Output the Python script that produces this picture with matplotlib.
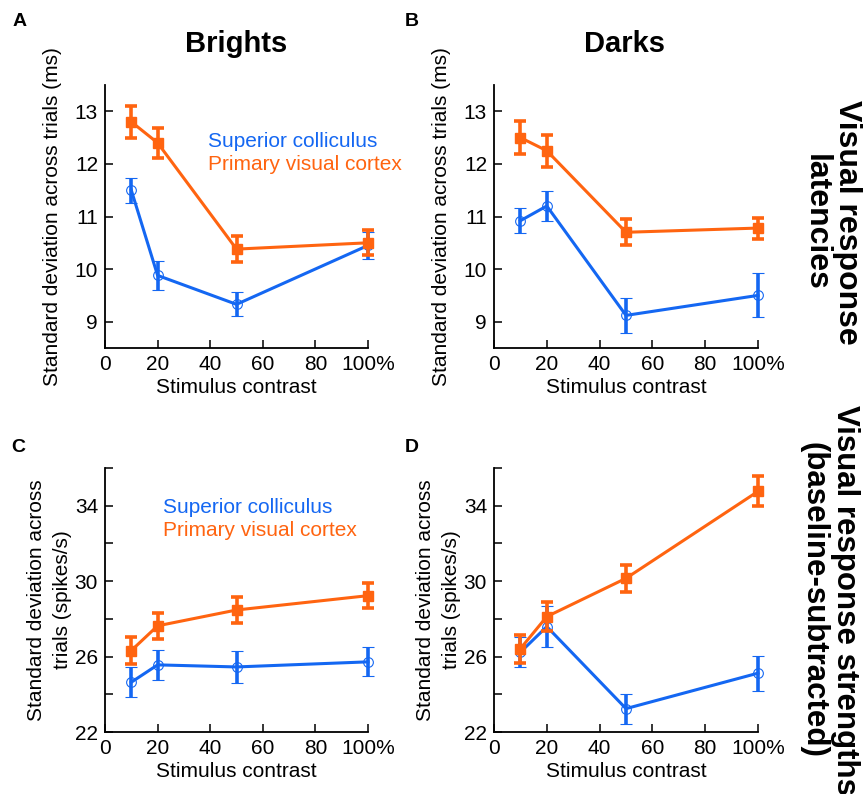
import matplotlib
matplotlib.use('Agg')
import matplotlib.pyplot as plt
from matplotlib import font_manager

names = {f.name for f in font_manager.fontManager.ttflist}
narrow = 'Liberation Sans Narrow' if 'Liberation Sans Narrow' in names else 'Liberation Sans'
plt.rcParams['font.family'] = [narrow, 'DejaVu Sans']

BLUE = '#1467f2'
ORANGE = '#ff6410'

contrast = [10, 20, 50, 100]
xtick_labels = ['0', '20', '40', '60', '80', '100%']

# latencies (ms)
brights_sc = [11.5, 9.88, 9.33, 10.45]
brights_sc_err = [0.24, 0.27, 0.23, 0.26]
brights_v1 = [12.8, 12.4, 10.38, 10.5]
brights_v1_err = [0.3, 0.29, 0.24, 0.24]
darks_sc = [10.92, 11.2, 9.12, 9.5]
darks_sc_err = [0.24, 0.28, 0.33, 0.42]
darks_v1 = [12.5, 12.25, 10.7, 10.78]
darks_v1_err = [0.32, 0.3, 0.25, 0.2]

# response strengths (spikes/s)
str_brights_sc = [24.64, 25.56, 25.45, 25.72]
str_brights_sc_err = [0.8, 0.8, 0.85, 0.77]
str_brights_v1 = [26.32, 27.63, 28.47, 29.23]
str_brights_v1_err = [0.73, 0.7, 0.68, 0.68]
str_darks_sc = [26.23, 27.59, 23.24, 25.12]
str_darks_sc_err = [0.8, 1.1, 0.8, 0.93]
str_darks_v1 = [26.42, 28.12, 30.15, 34.76]
str_darks_v1_err = [0.75, 0.77, 0.7, 0.8]

fig = plt.figure(figsize=(8.67, 7.94), dpi=100)
W, H = 867, 794


def add_ax(x0, y0, x1, y1):
    return fig.add_axes([x0 / W, 1 - y1 / H, (x1 - x0) / W, (y1 - y0) / H])


def style(ax, ylim, yticks, ylabels, ylabel, lpad):
    for s in ['top', 'right']:
        ax.spines[s].set_visible(False)
    for s in ['left', 'bottom']:
        ax.spines[s].set_linewidth(1.3)
    ax.set_xlim(0, 100)
    ax.set_ylim(*ylim)
    ax.set_xticks(range(0, 101, 20))
    ax.set_xticklabels(xtick_labels)
    ax.set_yticks(yticks)
    ax.set_yticklabels(ylabels)
    ax.tick_params(direction='in', length=6, width=1.1, labelsize=15, pad=5)
    ax.set_xlabel('Stimulus contrast', fontsize=15, labelpad=3)
    ax.set_ylabel(ylabel, fontsize=15, labelpad=lpad, linespacing=1.45)


def draw(ax, sc, sc_err, v1, v1_err):
    ax.errorbar(contrast, sc, yerr=sc_err, color=BLUE, lw=2.2, marker='o', ms=7,
                mfc='none', mec=BLUE, mew=0.8, capsize=4, elinewidth=2.6, capthick=2.6,
                clip_on=False, zorder=3)
    ax.errorbar(contrast, v1, yerr=v1_err, color=ORANGE, lw=2.2, marker='s', ms=7,
                mfc=ORANGE, mec=ORANGE, capsize=4, elinewidth=2.6, capthick=2.6,
                clip_on=False, zorder=4)


lat_ticks = [9, 10, 11, 12, 13]
lat_labels = ['9', '10', '11', '12', '13']
str_ticks = [22, 24, 26, 28, 30, 32, 34, 36]
str_labels = ['22', '', '26', '', '30', '', '34', '']

axA = add_ax(105, 85, 368, 348)
axB = add_ax(494, 85, 758, 348)
axC = add_ax(105, 468, 368, 732)
axD = add_ax(494, 468, 758, 732)

style(axA, (8.5, 13.5), lat_ticks, lat_labels, 'Standard deviation across trials (ms)', 9)
style(axB, (8.5, 13.5), lat_ticks, lat_labels, 'Standard deviation across trials (ms)', 9)
style(axC, (22, 36), str_ticks, str_labels, 'Standard deviation across\ntrials (spikes/s)', 2)
style(axD, (22, 36), str_ticks, str_labels, 'Standard deviation across\ntrials (spikes/s)', 2)

draw(axA, brights_sc, brights_sc_err, brights_v1, brights_v1_err)
draw(axB, darks_sc, darks_sc_err, darks_v1, darks_v1_err)
draw(axC, str_brights_sc, str_brights_sc_err, str_brights_v1, str_brights_v1_err)
draw(axD, str_darks_sc, str_darks_sc_err, str_darks_v1, str_darks_v1_err)

# in-plot labels
for ax, (x, y) in [(axA, (0.39, 0.787)), (axC, (0.22, 0.852))]:
    ax.text(x, y, 'Superior colliculus', color=BLUE, fontsize=15, transform=ax.transAxes,
            ha='left', va='center')
    ax.text(x, y - 0.089, 'Primary visual cortex', color=ORANGE, fontsize=15,
            transform=ax.transAxes, ha='left', va='center')

# column titles
fig.text(236 / W, 1 - 44 / H, 'Brights', fontsize=21, fontweight='bold', ha='center', va='center')
fig.text(625 / W, 1 - 44 / H, 'Darks', fontsize=21, fontweight='bold', ha='center', va='center')

# row titles
fig.text(831 / W, 1 - 222 / H, 'Visual response\nlatencies', fontsize=23, fontweight='bold',
         rotation=-90, ha='center', va='center', linespacing=1.05)
fig.text(829 / W, 1 - 600 / H, 'Visual response strengths\n(baseline-subtracted)', fontsize=22.5,
         fontweight='bold', rotation=-90, ha='center', va='center', linespacing=1.05)

# panel letters
for letter, (x, y) in zip('ABCD', [(20, 22), (412, 22), (18, 448), (412, 448)]):
    fig.text(x / W, 1 - y / H, letter, fontsize=14, fontweight='bold', ha='center', va='center',
             family=['Liberation Sans', 'DejaVu Sans'])

fig.savefig('out.png', dpi=100)
